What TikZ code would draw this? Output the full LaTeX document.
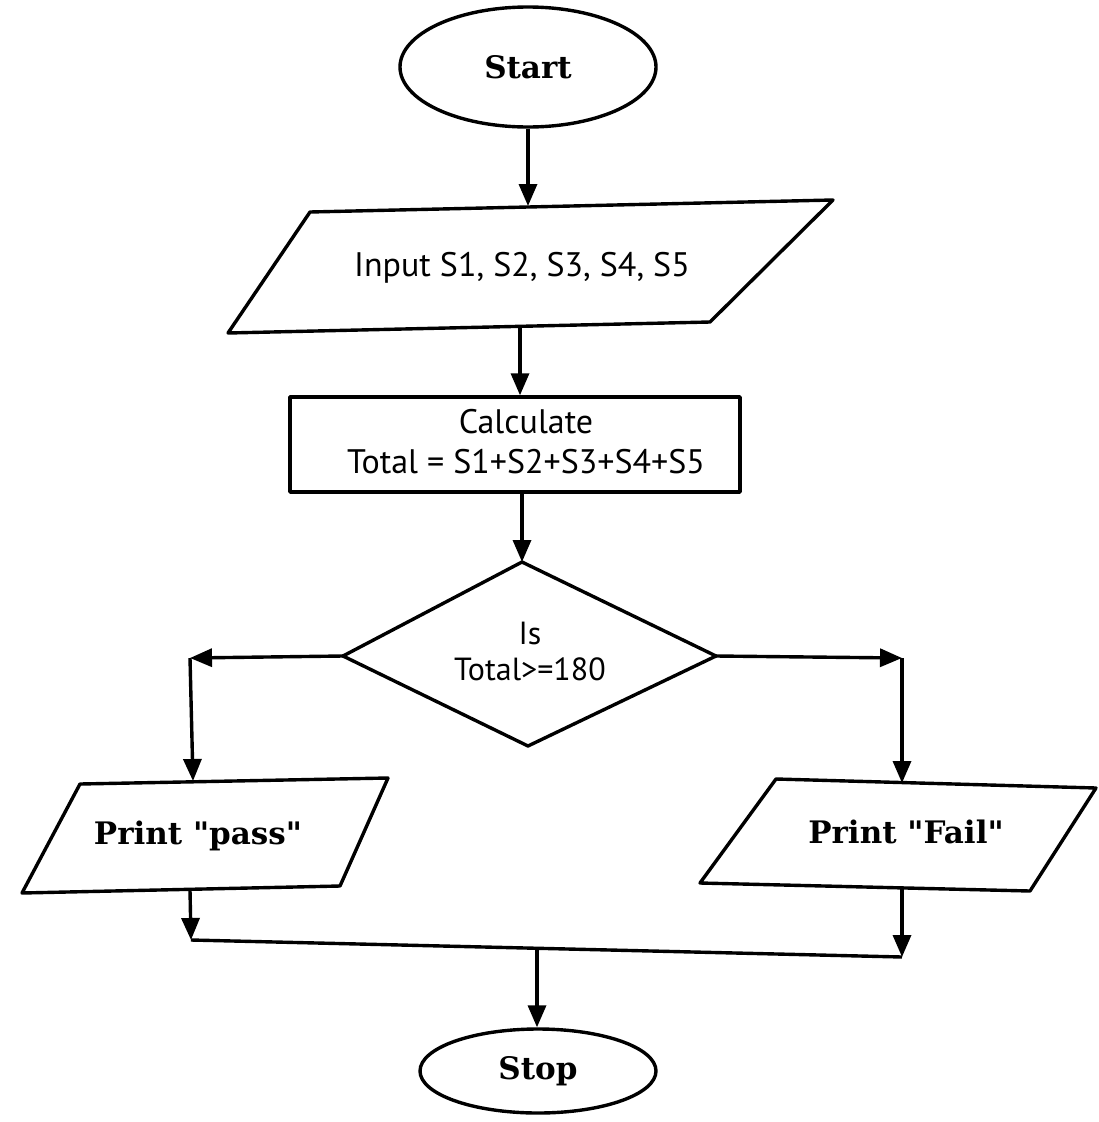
\documentclass[tikz,border=0pt]{standalone}
\usepackage{fontspec}
\setmainfont{DejaVu Serif}
\newfontfamily\sansf{PT Sans}
\usetikzlibrary{arrows.meta,shapes.geometric}
\begin{document}
\begin{tikzpicture}[x=1pt,y=-1pt,line width=3.4pt,line join=round,
  arr/.style={-{Triangle[length=22pt,width=18pt]}},
  bold/.style={font=\fontsize{31}{36}\selectfont\bfseries,inner sep=0pt},
  stxt/.style={font=\sansf\fontsize{34}{40}\selectfont,inner sep=0pt,align=center},
  term/.style={draw,ellipse,inner sep=0pt,font=\fontsize{31}{36}\selectfont\bfseries},
  proc/.style={draw,rectangle,inner sep=0pt}]
\useasboundingbox (0,0) rectangle (1098,1122);
\fill[white] (0,0) rectangle (1098,1122);

% Start
\node[term,minimum width=256pt,minimum height=120pt] (start) at (528,67) {Start};

% Input parallelogram
\coordinate (iTL) at (310,212);
\coordinate (iTR) at (833,200);
\coordinate (iBR) at (710,322);
\coordinate (iBL) at (228,333);
\draw (iTL) -- (iTR) -- (iBR) -- (iBL) -- cycle;
\node[stxt] (input) at (522,268) {Input S1, S2, S3, S4, S5};
\coordinate (inTop) at (525,206);
\coordinate (inBot) at (520,328);

% Calculate
\node[proc,minimum width=450pt,minimum height=95pt] (calc) at (515,444.5) {};
\node[stxt] (calctxt) at (526,442) {Calculate\\Total = S1+S2+S3+S4+S5};

% Decision
\coordinate (dT) at (522,562);
\coordinate (dL) at (343,656);
\coordinate (dR) at (716,656);
\coordinate (dB) at (528,746);
\draw (dT) -- (dR) -- (dB) -- (dL) -- cycle;
\node[stxt,font=\sansf\fontsize{32}{36}\selectfont] (dec) at (530,651) {Is\\Total>=180};

% Print pass
\coordinate (pTL) at (80,784);
\coordinate (pTR) at (388,778);
\coordinate (pBR) at (340,886);
\coordinate (pBL) at (22,893);
\draw (pTL) -- (pTR) -- (pBR) -- (pBL) -- cycle;
\node[bold] (pass) at (198,836) {Print \textquotedbl pass\textquotedbl};

% Print Fail
\coordinate (fTL) at (776,779);
\coordinate (fTR) at (1096,788);
\coordinate (fBR) at (1030,891);
\coordinate (fBL) at (700,883);
\draw (fTL) -- (fTR) -- (fBR) -- (fBL) -- cycle;
\node[bold] (fail) at (906,832) {Print \textquotedbl Fail\textquotedbl};

% Stop
\node[term,minimum width=236pt,minimum height=84pt] (stop) at (538,1071) {Stop};

% connectors
\draw[arr] (start.south) -- (start.south |- inTop);
\draw[arr] (inBot) -- (inBot |- calc.north);
\draw[arr] (calc.south -| dT) -- (dT);

\coordinate (lc) at (190,658);
\coordinate (rc) at (902,658);
\coordinate (pTop) at (193,781);
\coordinate (fTop) at (902,783);
\draw[arr] (dL) -- (lc);
\draw[arr] (lc) -- (pTop);
\draw[arr] (dR) -- (rc);
\draw[arr] (rc) -- (fTop);

\coordinate (pBot) at (190,890);
\coordinate (fBot) at (902,888);
\coordinate (jL) at (191,940);
\coordinate (jR) at (902,957);
\coordinate (jM) at (537,948);
\draw[arr] (pBot) -- (jL);
\draw[arr] (fBot) -- (jR);
\draw (jL) -- (jR);
\draw[arr] (jM) -- (jM |- stop.north);
\end{tikzpicture}
\end{document}
